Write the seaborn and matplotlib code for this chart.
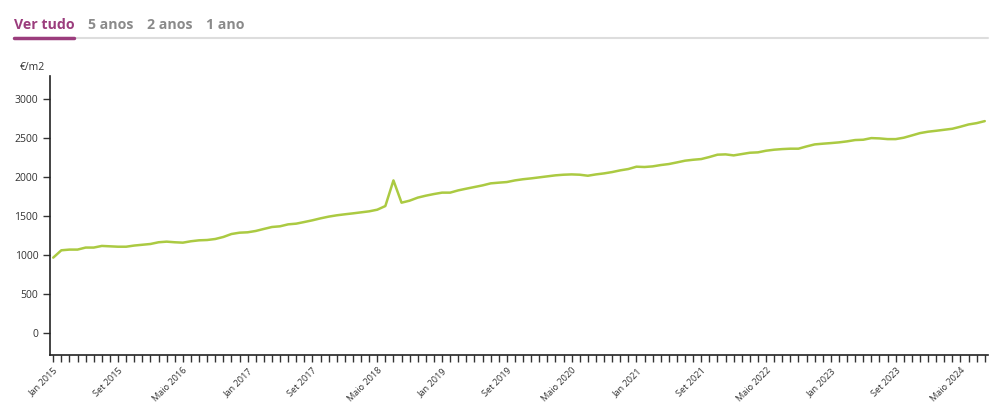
import numpy as np
import pandas as pd
import seaborn as sns
import matplotlib.pyplot as plt
from matplotlib.lines import Line2D

# Monthly price per m2, Jan 2015 .. Aug 2024
start = "2015-01"
prices = [
    970, 1064, 1073, 1073, 1099, 1099, 1120, 1115, 1110, 1110, 1125, 1135,
    1145, 1167, 1175, 1167, 1162, 1180, 1192, 1196, 1209, 1235, 1273, 1290,
    1295, 1312, 1338, 1363, 1372, 1397, 1406, 1427, 1449, 1474, 1496, 1513,
    1526, 1538, 1551, 1564, 1585, 1632, 1961, 1675, 1701, 1740, 1765, 1786,
    1804, 1804, 1833, 1855, 1876, 1897, 1923, 1932, 1940, 1961, 1976, 1987,
    2000, 2013, 2026, 2034, 2038, 2034, 2021, 2038, 2051, 2068, 2090, 2107,
    2137, 2133, 2141, 2158, 2171, 2192, 2214, 2226, 2235, 2261, 2291, 2295,
    2282, 2299, 2316, 2321, 2342, 2355, 2363, 2368, 2368, 2397, 2423, 2432,
    2440, 2449, 2462, 2479, 2483, 2504, 2500, 2491, 2491, 2509, 2538, 2568,
    2586, 2598, 2611, 2624, 2650, 2679, 2696, 2722,
]
month_names = ["Jan", "Fev", "Mar", "Abr", "Maio", "Jun",
               "Jul", "Ago", "Set", "Out", "Nov", "Dez"]
tabs = ["Ver tudo", "5 anos", "2 anos", "1 ano"]
unit = "€/m2"

dates = pd.period_range(start, periods=len(prices), freq="M")
df = pd.DataFrame({"i": np.arange(len(prices)), "price": prices})

sns.set_style("ticks")
plt.rcParams["font.family"] = ["Open Sans", "DejaVu Sans"]

fig = plt.figure(figsize=(10, 4.09), dpi=100)
ax = fig.add_axes([0.05, 0.132, 0.938, 0.682])

sns.lineplot(data=df, x="i", y="price", color="#abca42", linewidth=1.8, ax=ax)

ax.set_xlim(-0.4, len(prices) - 0.6)
ax.set_ylim(-280, 3300)
ax.set_yticks(range(0, 3001, 500))
ax.set_xticks(df["i"])
labels = [f"{month_names[d.month - 1]} {d.year}" if k % 8 == 0 else ""
          for k, d in enumerate(dates)]
ax.set_xticklabels(labels, rotation=45, ha="right", rotation_mode="anchor")
ax.tick_params(axis="both", direction="out", length=5, width=1,
               color="#333333", labelsize=7.5, labelcolor="#333333")
ax.tick_params(axis="x", pad=3, labelsize=6.6)
ax.set_xlabel("")
ax.set_ylabel("")
for s in ["top", "right"]:
    ax.spines[s].set_visible(False)
for s in ["left", "bottom"]:
    ax.spines[s].set_color("#222222")
    ax.spines[s].set_linewidth(1.2)

fig.text(0.02, 0.835, unit, fontsize=7.5, color="#333333", va="center")

# tab header
tab_x = [0.014, 0.088, 0.147, 0.206]
for k, (t, x) in enumerate(zip(tabs, tab_x)):
    fig.text(x, 0.94, t, fontsize=10.2, fontweight="bold",
             color="#9b3d7d" if k == 0 else "#8a8a8a", va="center")
fig.add_artist(Line2D([0.014, 0.988], [0.907, 0.907], color="#dddddd",
                      linewidth=1.5, transform=fig.transFigure))
fig.add_artist(Line2D([0.014, 0.074], [0.907, 0.907], color="#9b3d7d",
                      linewidth=2.5, transform=fig.transFigure))

fig.savefig("out.png", dpi=100, facecolor="white")
